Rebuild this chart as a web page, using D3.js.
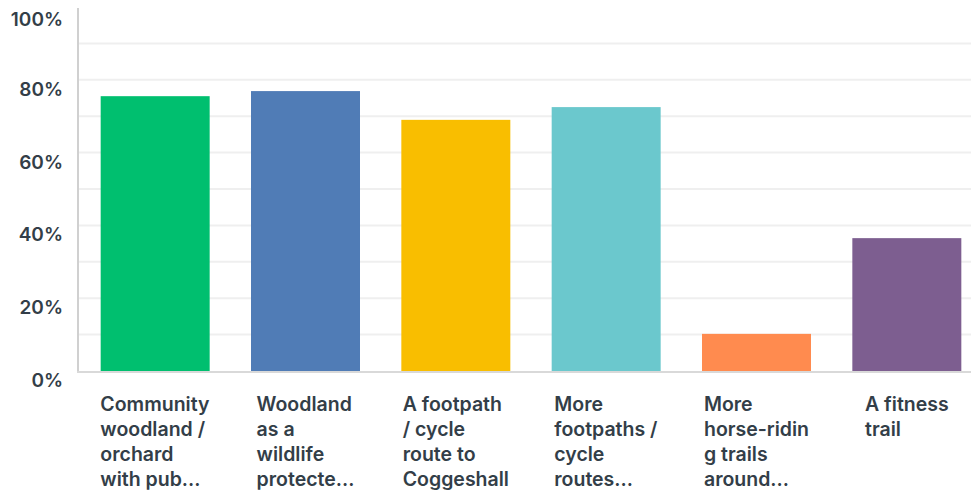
<!DOCTYPE html>
<html><head><meta charset="utf-8">
<script src="https://cdn.jsdelivr.net/npm/d3@7"></script>
<style>
body{margin:0;background:#fff;}
svg text{font-family:Inter,"Open Sans",sans-serif;fill:#333e48;}
</style></head>
<body><svg id="c" width="971" height="491"></svg>
<script>
const categories = [
  ["Community","woodland /","orchard","with pub..."],
  ["Woodland","as a","wildlife","protecte..."],
  ["A footpath","/ cycle","route to","Coggeshall"],
  ["More","footpaths /","cycle","routes..."],
  ["More","horse-ridin","g trails","around..."],
  ["A fitness","trail"]
];
const values = [75.5, 76.9, 69.0, 72.5, 10.2, 36.5];
const colors = ["#00bf6f","#507cb6","#f9be00","#6bc8cd","#ff8b4f","#7d5e90"];
const yTicks = [0,20,40,60,80,100];
const gridTicks = [10,20,30,40,50,60,70,80,90];

const svg = d3.select("#c");
const y = d3.scaleLinear().domain([0,100]).range([371,7]);
const x = d3.scaleBand().domain(d3.range(categories.length)).range([80,982]).paddingInner(0.275).paddingOuter(0.1375);

svg.selectAll("line.grid").data(gridTicks).enter().append("line")
  .attr("x1",79).attr("x2",971).attr("y1",d=>y(d)).attr("y2",d=>y(d))
  .attr("stroke","#efefef").attr("stroke-width",2);

svg.selectAll("rect.bar").data(values).enter().append("rect")
  .attr("x",(d,i)=>x(i)).attr("width",x.bandwidth())
  .attr("y",d=>y(d)).attr("height",d=>y(0)-y(d))
  .attr("fill",(d,i)=>colors[i]);

svg.append("line").attr("x1",78).attr("x2",78).attr("y1",8).attr("y2",372)
  .attr("stroke","#d0d0d0").attr("stroke-width",2);
svg.append("line").attr("x1",77).attr("x2",971).attr("y1",372).attr("y2",372)
  .attr("stroke","#d9d9d9").attr("stroke-width",2);

svg.selectAll("text.yl").data(yTicks).enter().append("text")
  .attr("x",63).attr("y",d=>Math.max(y(d),10)+16)
  .attr("text-anchor","end").attr("font-size",19).attr("font-weight",600)
  .text(d=>d+"%");

categories.forEach((lines,i)=>{
  const g = svg.append("g");
  const t = g.append("text").attr("font-size",19.5).attr("font-weight",600);
  lines.forEach((l,j)=>{
    t.append("tspan").attr("x",0).attr("y",411+j*25).text(l);
  });
  const w = t.node().getBBox().width;
  const cx = x(i)+x.bandwidth()/2;
  g.attr("transform",`translate(${cx-w/2},0)`);
});
</script></body></html>
